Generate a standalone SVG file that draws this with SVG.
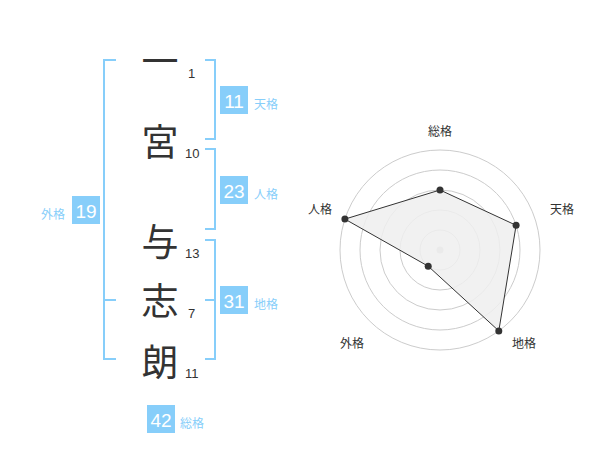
<svg xmlns="http://www.w3.org/2000/svg" width="600" height="470" viewBox="0 0 600 470">
<style>
.ch{font-family:"Noto Sans CJK JP","Noto Sans CJK SC",sans-serif;font-size:37px;fill:#333;text-anchor:middle;dominant-baseline:central}
.num{font-family:"Liberation Sans",Arial,sans-serif;font-size:13px;fill:#333;dominant-baseline:central}
.br{fill:none;stroke:#87cefa;stroke-width:2}
.box{fill:#87cefa}
.bn{font-family:"Liberation Sans",Arial,sans-serif;font-size:19px;fill:#fff;text-anchor:middle;dominant-baseline:central}
.bl{font-family:"Noto Sans CJK JP","Noto Sans CJK SC",sans-serif;font-size:12px;fill:#87cefa;dominant-baseline:central}
.ring{fill:none;stroke:#ccc;stroke-width:1}
.rl{font-family:"Noto Sans CJK JP","Noto Sans CJK SC",sans-serif;font-size:12px;fill:#333;text-anchor:middle;dominant-baseline:central}
</style>
<g id="connectors">
<path class="br" d="M116,60 H104 V359 H116 M104,300 H116"/>
<path class="br" d="M205,60 H215 V139 H205"/>
<path class="br" d="M205,149 H215 V229 H205"/>
<path class="br" d="M205,240 H215 V359 H205 M205,300 H215"/>
</g>
<g id="char-1"><text class="ch" x="160" y="59">一</text><text class="num" x="188" y="73">1</text></g>
<g id="char-2"><text class="ch" x="160" y="140">宮</text><text class="num" x="185" y="153">10</text></g>
<g id="char-3"><text class="ch" x="160" y="240">与</text><text class="num" x="185" y="253">13</text></g>
<g id="char-4"><text class="ch" x="160" y="299">志</text><text class="num" x="188" y="313">7</text></g>
<g id="char-5"><text class="ch" x="160" y="360">朗</text><text class="num" x="185" y="373">11</text></g>
<g id="tenkaku"><rect class="box" x="220" y="86" width="28" height="28"/><text class="bn" x="234" y="101">11</text><text class="bl" x="254" y="103">天格</text></g>
<g id="jinkaku"><rect class="box" x="220" y="176" width="28" height="28"/><text class="bn" x="234" y="191">23</text><text class="bl" x="254" y="193">人格</text></g>
<g id="gaikaku"><rect class="box" x="72" y="196" width="28" height="28"/><text class="bn" x="86" y="211">19</text><text class="bl" x="41" y="213">外格</text></g>
<g id="chikaku"><rect class="box" x="220" y="286" width="28" height="28"/><text class="bn" x="234" y="301">31</text><text class="bl" x="254" y="303">地格</text></g>
<g id="soukaku"><rect class="box" x="147" y="405" width="28" height="28"/><text class="bn" x="161" y="420">42</text><text class="bl" x="180" y="422">総格</text></g>
<g id="radar">
<circle class="ring" cx="440" cy="250" r="20"/>
<circle class="ring" cx="440" cy="250" r="40"/>
<circle class="ring" cx="440" cy="250" r="60"/>
<circle class="ring" cx="440" cy="250" r="80"/>
<circle class="ring" cx="440" cy="250" r="100"/>
<circle cx="440" cy="250" r="3.5" fill="#ccc"/>
<polygon points="440,190 516.1,225.3 498.8,330.9 428.2,266.2 344.9,219.1" fill="#eee" fill-opacity="0.85" stroke="#333" stroke-width="1"/>
<g fill="#333">
<circle cx="440" cy="190" r="3.5"/>
<circle cx="516.1" cy="225.3" r="3.5"/>
<circle cx="498.8" cy="330.9" r="3.5"/>
<circle cx="428.2" cy="266.2" r="3.5"/>
<circle cx="344.9" cy="219.1" r="3.5"/>
</g>
<text class="rl" x="440" y="130">総格</text>
<text class="rl" x="562" y="208">天格</text>
<text class="rl" x="524" y="342">地格</text>
<text class="rl" x="352" y="342">外格</text>
<text class="rl" x="320" y="208">人格</text>
</g>
</svg>
